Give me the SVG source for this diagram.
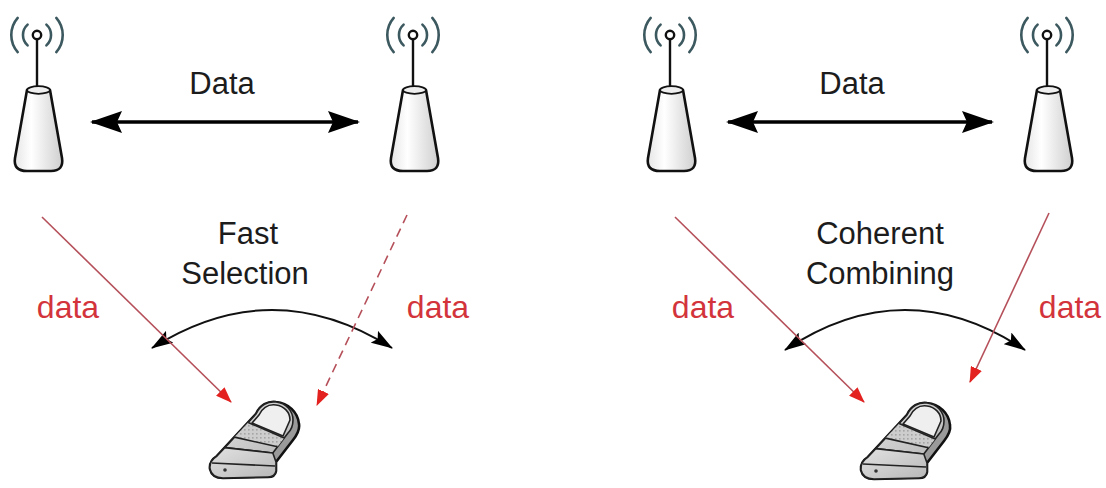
<svg xmlns="http://www.w3.org/2000/svg" width="1106" height="488" viewBox="0 0 1106 488">
  <defs>
    <style>
      .label { font-family: "Liberation Sans", Arial, sans-serif; font-size: 31px; fill: #1c1c1c; text-anchor: middle; }
      .red { font-family: "Liberation Sans", Arial, sans-serif; font-size: 32px; fill: #d3343c; text-anchor: middle; }
      .wave { fill: none; stroke: #3d5960; stroke-width: 2.6; stroke-linecap: round; }
      .mast { stroke: #111; stroke-width: 2.4; }
      .ant { fill: #fff; stroke: #111; stroke-width: 2.4; }
      .cone { fill: url(#coneFill); stroke: #111; stroke-width: 2.6; stroke-linejoin: round; }
      .cap { fill: #eeeeee; stroke: #111; stroke-width: 1.8; }
      .link { fill: none; stroke: #000; stroke-width: 3.5; }
      .swing { fill: none; stroke: #111; stroke-width: 2; }
      .ray { fill: none; stroke: #b5505a; stroke-width: 1.6; }
      .dashed { stroke-dasharray: 9 6; }
      .shell { stroke: #111; stroke-width: 2.6; stroke-linejoin: round; }
      .face { stroke: #222; stroke-width: 1.6; stroke-linejoin: round; }
      .seam { fill: none; stroke: #222; stroke-width: 1.6; }
    </style>
    <linearGradient id="coneFill" x1="0" y1="0" x2="1" y2="0">
      <stop offset="0" stop-color="#e6e6e6"/>
      <stop offset="0.35" stop-color="#ffffff"/>
      <stop offset="1" stop-color="#cfcfcf"/>
    </linearGradient>
    <linearGradient id="phoneFill" x1="0" y1="0" x2="1" y2="1">
      <stop offset="0" stop-color="#e2e2e2"/>
      <stop offset="1" stop-color="#b8b8b8"/>
    </linearGradient>
    <pattern id="keys" width="4" height="4" patternUnits="userSpaceOnUse">
      <rect width="4" height="4" fill="#cdcdcd"/>
      <rect x="1" y="1" width="1.6" height="1.6" fill="#a4a4a4"/>
    </pattern>
    <marker id="bigHead" viewBox="0 0 32 22" refX="30" refY="11" markerWidth="32" markerHeight="22" markerUnits="userSpaceOnUse" orient="auto-start-reverse">
      <path d="M0 0 L32 11 L0 22 L5 11 Z" fill="#000"/>
    </marker>
    <marker id="swingHead" viewBox="0 0 22 14" refX="21" refY="7" markerWidth="22" markerHeight="14" markerUnits="userSpaceOnUse" orient="auto-start-reverse">
      <path d="M0 0 L22 7 L0 14 L4 7 Z" fill="#000"/>
    </marker>
    <marker id="redHead" viewBox="0 0 16 12" refX="15" refY="6" markerWidth="16" markerHeight="12" markerUnits="userSpaceOnUse" orient="auto">
      <path d="M0 0 L16 6 L0 12 Z" fill="#e3221f"/>
    </marker>

    <!-- base station: waves, antenna, mast, cone -->
    <g id="tower">
      <path class="wave" d="M-19.3 17.9 A26 26 0 0 0 -19.3 52.1"/>
      <path class="wave" d="M19.3 17.9 A26 26 0 0 1 19.3 52.1"/>
      <path class="wave" d="M-9.4 24.6 A14 14 0 0 0 -9.4 45.4"/>
      <path class="wave" d="M9.4 24.6 A14 14 0 0 1 9.4 45.4"/>
      <line class="mast" x1="0" y1="39" x2="0" y2="90"/>
      <circle class="ant" cx="0" cy="35" r="4.2"/>
      <path class="cone" d="M-10 90 L-22 158 Q-24 171 -10 171 L14 171 Q27 171 25 158 L13 90 Z"/>
      <ellipse class="cap" cx="1.5" cy="90" rx="11.5" ry="3.8"/>
    </g>

    <!-- handset, seen in three-quarter view, tilted to the upper right -->
    <g id="handset">
      <!-- outer shell with side thickness -->
      <path class="shell" fill="#9a9a9a" d="M1 -26 C5 -35 13 -39 21 -38 C33 -37 43 -28 44 -16 C45 -10 42 -5 38 0 L21 22 L21 31 Q20 37 13 37 L-32 38 Q-43 38 -45 29 Q-46 21 -38 16 Z"/>
      <!-- front face -->
      <path class="face" fill="url(#phoneFill)" d="M1 -26 C5 -35 13 -39 21 -38 C31 -37 38 -29 38 -20 C38 -14 36 -10 33 -7 L17.8 13 L-30.2 7.6 Z"/>
      <!-- screen -->
      <path class="face" fill="#efefef" d="M4 -25 C8 -33 14 -36 21 -35 C29 -34 35 -28 35 -20 L28 -4 L-3 -17 Z"/>
      <!-- keypad -->
      <path fill="url(#keys)" d="M-6.8 -17.6 L29.2 -2 L22.5 6.8 L-20.5 -2.9 Z"/>
      <line class="seam" x1="-6.8" y1="-17.6" x2="29.2" y2="-2"/>
      <line class="seam" x1="-20.5" y1="-2.9" x2="22.5" y2="6.8"/>
      <!-- base -->
      <path class="face" fill="url(#phoneFill)" d="M-38 16 L-30.2 7.6 L17.8 13 L21 22 L21 31 Q20 37 13 37 L-32 38 Q-43 38 -45 29 Q-46 21 -38 16 Z"/>
      <path class="seam" d="M-43 23 L20 26"/>
      <circle cx="-30" cy="30" r="1.8" fill="#333"/>
    </g>
  </defs>

  <!-- base stations -->
  <g id="bs-a1"><use href="#tower" x="37" y="0"/></g>
  <g id="bs-a2"><use href="#tower" x="413" y="0"/></g>
  <g id="bs-b1"><use href="#tower" x="670" y="0"/></g>
  <g id="bs-b2"><use href="#tower" x="1047" y="0"/></g>

  <!-- handsets -->
  <g id="ue-a"><use href="#handset" x="255" y="440"/></g>
  <g id="ue-b"><use href="#handset" x="906" y="441"/></g>

  <!-- connectors -->
  <g id="connectors">
    <path class="link" d="M92 122 L358 122" marker-start="url(#bigHead)" marker-end="url(#bigHead)"/>
    <path class="link" d="M728 122 L992 122" marker-start="url(#bigHead)" marker-end="url(#bigHead)"/>

    <path class="swing" d="M152 348 Q272 272 392 348" marker-start="url(#swingHead)" marker-end="url(#swingHead)"/>
    <path class="swing" d="M785 350 Q905 270 1025 350" marker-start="url(#swingHead)" marker-end="url(#swingHead)"/>

    <path class="ray" d="M42 217 L231 402" marker-end="url(#redHead)"/>
    <path class="ray dashed" d="M407 215 L317 405" marker-end="url(#redHead)"/>
    <path class="ray" d="M675 217 L864 402" marker-end="url(#redHead)"/>
    <path class="ray" d="M1049 213 L970 382" marker-end="url(#redHead)"/>
  </g>

  <!-- labels -->
  <g id="labels">
    <text class="label" x="222" y="94">Data</text>
    <text class="label" x="852" y="94">Data</text>
    <text class="label" x="248" y="244">Fast</text>
    <text class="label" x="245" y="284">Selection</text>
    <text class="label" x="880" y="244">Coherent</text>
    <text class="label" x="880" y="284">Combining</text>
    <text class="red" x="68" y="318">data</text>
    <text class="red" x="438" y="318">data</text>
    <text class="red" x="703" y="318">data</text>
    <text class="red" x="1070" y="318">data</text>
  </g>
</svg>
